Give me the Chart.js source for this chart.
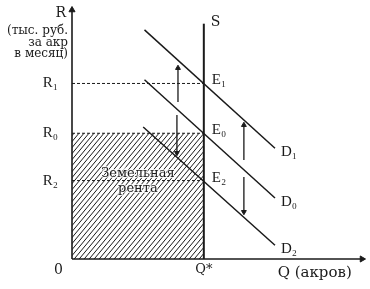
<!DOCTYPE html>
<html>
<head>
<meta charset="utf-8">
<script src="https://cdn.jsdelivr.net/npm/chart.js@4"></script>
<style>
  html, body { margin: 0; padding: 0; background: #fff; }
  #wrap { width: 370px; height: 289px; }
</style>
</head>
<body>
<div id="wrap"><canvas id="rent"></canvas></div>
<script>
// chart values
const qMax = 11;
const rMax = 10;
const qStar = 5;
const rentNames = ['R₁', 'R₀', 'R₂'];
const rentLevels = [7.05, 5.05, 3.15];
const pointNames = ['E₁', 'E₀', 'E₂'];
const supplyQ = [5, 5];
const supplyR = [0, 9.45];
const demandNames = ['D₁', 'D₀', 'D₂'];
const demandQ = [[2.75, 7.7], [2.75, 7.7], [2.7, 7.7]];
const demandR = [[9.2, 4.45], [7.2, 2.45], [5.3, 0.55]];
// shifts of demand: [q, from r, to r]
const arrowQ = [4.02, 3.98, 6.52, 6.52];
const arrowFrom = [6.31, 5.78, 3.98, 3.29];
const arrowTo = [7.67, 4.26, 5.38, 1.89];

const ink = '#1a1a1a';
const serif = '"DejaVu Serif", "Liberation Serif", serif';
const times = '"Liberation Serif", "DejaVu Serif", serif';

function hatch() {
  const w = 5, h = 6;
  const c = document.createElement('canvas');
  c.width = w; c.height = h;
  const g = c.getContext('2d');
  g.strokeStyle = ink;
  g.lineWidth = 1;
  g.beginPath();
  g.moveTo(-w, 2 * h); g.lineTo(2 * w, -h);
  g.moveTo(-2 * w, 2 * h); g.lineTo(w, -h);
  g.moveTo(0, 2 * h); g.lineTo(3 * w, -h);
  g.stroke();
  return g.createPattern(c, 'repeat');
}

const pts = (qs, rs) => qs.map((q, i) => ({x: q, y: rs[i]}));
const datasets = [];

// land rent area under R0 up to Q*
datasets.push({
  data: [{x: 0, y: rentLevels[1]}, {x: qStar, y: rentLevels[1]}],
  borderColor: ink, borderWidth: 1, borderDash: [3, 2],
  fill: 'origin', backgroundColor: hatch()
});
[0, 2].forEach(i => datasets.push({
  data: [{x: 0, y: rentLevels[i]}, {x: qStar, y: rentLevels[i]}],
  borderColor: ink, borderWidth: 1, borderDash: [3, 2]
}));
// axes
datasets.push({data: [{x: 0, y: 0}, {x: 0, y: rMax}], borderColor: ink, borderWidth: 1.6, clip: false});
datasets.push({data: [{x: 0, y: 0}, {x: qMax, y: 0}], borderColor: ink, borderWidth: 1.6, clip: false});
datasets.push({
  data: [{x: 0, y: rMax}, {x: qMax, y: 0}],
  showLine: false, pointStyle: 'triangle', pointRadius: 3.5,
  rotation: [0, 90], backgroundColor: ink, borderColor: ink, clip: false
});
// supply
datasets.push({data: pts(supplyQ, supplyR), borderColor: ink, borderWidth: 2});
// demand
demandQ.forEach((qs, i) => datasets.push({
  data: pts(qs, demandR[i]), borderColor: ink, borderWidth: 1.5
}));
// shift arrows
arrowQ.forEach((q, i) => {
  datasets.push({
    data: [{x: q, y: arrowFrom[i]}, {x: q, y: arrowTo[i]}],
    borderColor: ink, borderWidth: 1.3
  });
  datasets.push({
    data: [{x: q, y: arrowTo[i]}],
    showLine: false, pointStyle: 'triangle', pointRadius: 2.8,
    rotation: arrowTo[i] > arrowFrom[i] ? 0 : 180,
    backgroundColor: ink, borderColor: ink
  });
});

const labelsPlugin = {
  id: 'labels',
  afterDatasetsDraw(chart) {
    const {ctx, scales: {x, y}} = chart;
    ctx.save();
    ctx.fillStyle = ink;
    ctx.textBaseline = 'middle';
    ctx.font = '15px ' + times;
    ctx.textAlign = 'left';
    pointNames.forEach((n, i) => ctx.fillText(n, x.getPixelForValue(qStar) + 8, y.getPixelForValue(rentLevels[i]) - 3));
    demandNames.forEach((n, i) => ctx.fillText(n, x.getPixelForValue(demandQ[i][1]) + 6, y.getPixelForValue(demandR[i][1]) + 4));
    ctx.font = '14px ' + serif;
    ctx.fillText('S', x.getPixelForValue(supplyQ[1]) + 7, y.getPixelForValue(supplyR[1]) - 1);
    ctx.font = '15px ' + serif;
    ctx.fillText('Q (акров)', x.getPixelForValue(7.8), y.getPixelForValue(0) + 14);
    ctx.font = '14px ' + serif;
    ctx.textAlign = 'right';
    ctx.fillText('R', x.getPixelForValue(0) - 6, 13);
    ctx.fillText('0', x.getPixelForValue(0) - 9, y.getPixelForValue(0) + 11);
    ctx.font = '12px ' + serif;
    ['(тыс. руб.', 'за акр', 'в месяц)'].forEach((t, i) => ctx.fillText(t, x.getPixelForValue(0) - 4, 31 + i * 11.5));
    ctx.textAlign = 'center';
    ctx.font = '13px ' + serif;
    ctx.strokeStyle = 'rgba(255,255,255,0.8)';
    ctx.lineWidth = 2;
    const cx = x.getPixelForValue(2.5);
    ctx.strokeText('Земельная', cx, 174);
    ctx.fillText('Земельная', cx, 174);
    ctx.strokeText('рента', cx, 189);
    ctx.fillText('рента', cx, 189);
    ctx.restore();
  }
};

new Chart('rent', {
  type: 'scatter',
  data: {datasets: datasets},
  options: {
    responsive: true,
    maintainAspectRatio: false,
    animation: false,
    events: [],
    layout: {padding: {top: 10, right: 8, left: 0, bottom: 0}},
    elements: {point: {radius: 0}, line: {tension: 0}},
    datasets: {scatter: {showLine: true}},
    plugins: {legend: {display: false}, tooltip: {enabled: false}},
    scales: {
      x: {
        min: 0, max: qMax,
        grid: {display: false, drawTicks: false},
        border: {display: false},
        afterBuildTicks: s => { s.ticks = [{value: qStar}]; },
        afterFit: s => { s.height = 30; s.paddingLeft = 0; s.paddingRight = 0; },
        ticks: {callback: () => 'Q*', color: ink, padding: 3, font: {family: serif, size: 13}}
      },
      y: {
        min: 0, max: rMax,
        grid: {display: false, drawTicks: false},
        border: {display: false},
        afterBuildTicks: s => { s.ticks = rentLevels.map(v => ({value: v})); },
        afterFit: s => { s.width = 72; s.paddingTop = 0; s.paddingBottom = 0; },
        ticks: {
          callback: v => rentNames[rentLevels.indexOf(v)],
          color: ink, padding: 14, font: {family: times, size: 15}
        }
      }
    }
  },
  plugins: [labelsPlugin]
});
</script>
</body>
</html>
